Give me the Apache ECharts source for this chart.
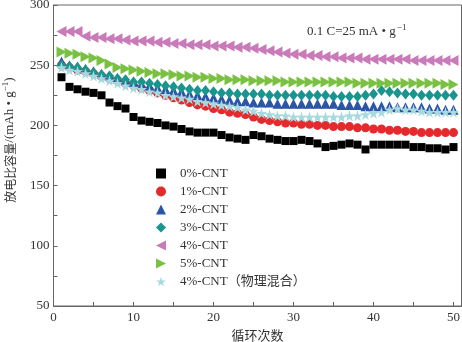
<!DOCTYPE html>
<html><head><meta charset="utf-8">
<script src="https://cdn.jsdelivr.net/npm/echarts@6/dist/echarts.min.js"></script>
<style>html,body{margin:0;padding:0;background:#fff}#c{width:462px;height:342px}</style>
</head><body><div id="c"></div>
<script>
const cycles = Array.from({length: 50}, (_, i) => i + 1);
const names = ['0%-CNT', '1%-CNT', '2%-CNT', '3%-CNT', '4%-CNT', '5%-CNT', '4%-CNT（物理混合）'];
const cnt0 = [240,232,230,228,227,225,219,216,214,207,204,203,202,200,199,197,195,194,194,194,192,190,189,188,192,191,189,188,187,187,188,187,185,182,183,184,185,184,180,184,184,184,184,184,182,182,181,181,180,182];
const cnt1 = [250,248,246,245,243,241,239,237,235,233,231,229,227,225,223,221,219,217,216,214,213,211,210,209,207,205,204,203,202,202,201,201,200,200,199,199,199,198,198,197,197,196,196,195,195,194,194,194,194,194];
const cnt2 = [253,250,249,247,245,243,241,239,237,236,234,233,231,230,229,228,226,225,224,223,222,221,220,220,219,219,219,218,218,218,218,218,218,218,218,217,217,217,216,216,216,216,215,215,215,215,214,214,213,213];
const cnt3 = [250,249,248,246,244,242,241,239,238,236,236,235,234,233,232,231,230,229,229,228,227,227,226,226,226,226,225,225,225,225,225,225,225,225,224,224,224,224,225,226,229,228,227,226,226,225,225,225,225,225];
const cnt4 = [278,278,278,274,273,273,272,272,271,270,270,270,269,269,268,268,267,267,267,266,266,266,265,265,264,263,262,261,260,259,259,258,258,257,257,256,256,256,255,255,255,255,255,255,254,254,254,254,254,254];
const cnt5 = [261,260,259,257,256,254,251,248,247,246,245,244,243,243,242,241,241,240,240,239,239,238,238,238,237,237,237,237,236,236,236,236,236,236,236,236,236,235,235,235,235,235,235,235,235,235,235,235,234,234];
const cnt4mix = [248,246,245,243,241,239,237,235,233,231,230,228,227,225,224,223,222,220,219,218,217,216,215,213,212,210,209,208,208,207,207,207,207,207,207,207,208,208,209,210,211,213,214,213,213,212,211,211,211,211];
const xTicks = [0, 10, 20, 30, 40, 50];
const yTicks = [50, 100, 150, 200, 250, 300];

const serif = "'Liberation Serif','Noto Sans CJK SC',serif";
const star = 'path://M50,0 L61,35 L98,35 L68,57 L79,91 L50,70 L21,91 L32,57 L2,35 L39,35 Z';
const triLeft = 'path://M0,5 L10,0 L10,10 Z';
const triRight = 'path://M0,0 L10,5 L0,10 Z';
const seriesData = [cnt0, cnt1, cnt2, cnt3, cnt4, cnt5, cnt4mix];
const styles = [
  {symbol: 'rect', size: 8, color: '#000000'},
  {symbol: 'circle', size: 9, color: '#e42a2c'},
  {symbol: 'triangle', size: 10, color: '#2b55a8'},
  {symbol: 'diamond', size: [9, 11], color: '#1a948f'},
  {symbol: triLeft, size: [10, 11], color: '#c97ab9'},
  {symbol: triRight, size: [10, 11], color: '#7ac143'},
  {symbol: star, size: 11, color: '#a6dade'}
];
const drawOrder = [4, 5, 3, 2, 6, 1, 0];
const series = drawOrder.map(i => ({
  name: names[i], type: 'scatter',
  data: cycles.map((c, k) => [c, seriesData[i][k]]),
  symbol: styles[i].symbol, symbolSize: styles[i].size,
  itemStyle: {color: styles[i].color, opacity: 1},
  z: 2 + i
}));

const chart = echarts.init(document.getElementById('c'), null, {renderer: 'canvas'});
chart.setOption({
  animation: false,
  backgroundColor: '#fff',
  grid: {left: 53.5, right: 0.5, top: 5, bottom: 36, show: true, borderColor: '#666', borderWidth: 1,
    containLabel: false, outerBoundsMode: 'none'},
  xAxis: {
    type: 'value', min: 0, max: 51, interval: 5,
    axisLine: {lineStyle: {color: '#666'}},
    axisTick: {inside: true, length: 4, lineStyle: {color: '#666'}},
    splitLine: {show: false},
    axisLabel: {fontFamily: serif, fontSize: 13, color: '#333', margin: 5,
      formatter: v => xTicks.includes(v) ? String(v) : ''},
    name: '循环次数', nameLocation: 'middle', nameGap: 22,
    nameTextStyle: {fontFamily: "'Noto Sans CJK SC'", fontSize: 13, color: '#333'}
  },
  yAxis: {
    type: 'value', min: 50, max: 300, interval: 25,
    axisLine: {show: true, lineStyle: {color: '#666'}},
    axisTick: {show: true, inside: true, length: 4, lineStyle: {color: '#666'}},
    splitLine: {show: false},
    axisLabel: {fontFamily: serif, fontSize: 13, color: '#333', margin: 4,
      formatter: v => yTicks.includes(v) ? String(v) : ''}
  },
  legend: {
    orient: 'vertical', left: 151, top: 162,
    itemWidth: 10, itemHeight: 10, itemGap: 5,
    data: names,
    textStyle: {fontFamily: serif, fontSize: 13, color: '#333', padding: [0, 0, 0, 9]},
    selectedMode: false
  },
  graphic: [
    {type: 'text', left: 307, top: 23,
      style: {text: '{a|0.1 C=25 mA • g}{s|−1}', rich: {
        a: {fontFamily: serif, fontSize: 13, fill: '#333'},
        s: {fontFamily: serif, fontSize: 9, fill: '#333', verticalAlign: 'top', padding: [0, 0, 8, 1]}
      }}},
    {type: 'text', x: 10, y: 140, rotation: Math.PI / 2,
      style: {text: '{c|放电比容量}{a|/(mAh • g}{s|−1}{a|)}', align: 'center', verticalAlign: 'middle', rich: {
        c: {fontFamily: "'Noto Sans CJK SC'", fontSize: 12, fill: '#333'},
        a: {fontFamily: serif, fontSize: 13, fill: '#333'},
        s: {fontFamily: serif, fontSize: 9, fill: '#333', padding: [0, 0, 8, 0]}
      }}}
  ],
  series: series
});
</script></body></html>
